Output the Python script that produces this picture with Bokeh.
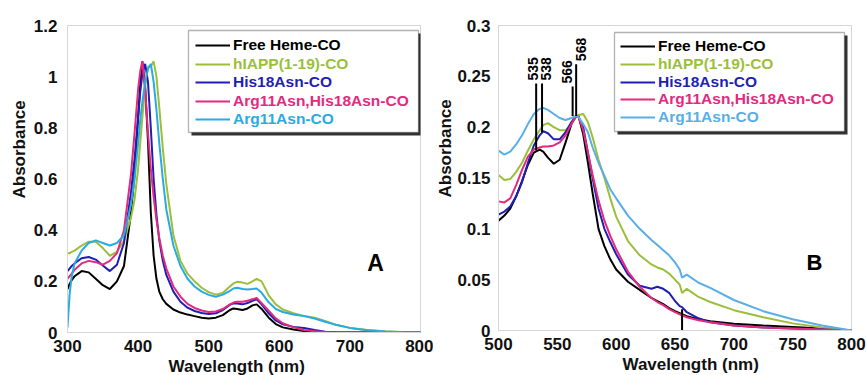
import math
from bokeh.plotting import figure
from bokeh.layouts import row
from bokeh.models import (Range1d, FixedTicker, NumeralTickFormatter, Legend, LegendItem,
                          BoxAnnotation, Label, ColumnDataSource, Title)
from bokeh.core.properties import value
from bokeh.embed import file_html
from bokeh.resources import INLINE

FONT = "Liberation Sans"

# ---------------- data: panel A (full spectra) ----------------
wl_a = [300, 303, 306, 310, 320, 330, 340, 350, 360, 370,
        380, 390, 395, 400, 403, 406, 410, 414, 418, 422,
        426, 430, 435, 440, 450, 460, 470, 480, 490, 500,
        510, 520, 530, 535, 540, 548, 555, 562, 568, 575,
        585, 595, 605, 620, 635, 650, 665, 680, 700, 725,
        750, 775, 800]

free_heme_a = [.17, .19, .205, .22, .24, .235, .21, .185, .17, .2,
               .26, .47, .62, .84, .97, 1.06, .96, .75, .47, .3,
               .21, .16, .13, .112, .09, .078, .07, .064, .058, .055,
               .058, .068, .088, .094, .092, .088, .094, .106, .11, .092,
               .058, .033, .02, .012, .006, .003, .001, 0, 0, 0,
               0, 0, 0]
hiapp_a = [.31, .31, .315, .32, .34, .355, .355, .33, .30, .315,
           .36, .45, .52, .64, .74, .84, .96, 1.04, 1.04, 1.06,
           1.0, .88, .72, .58, .38, .28, .23, .2, .175, .158,
           .148, .155, .18, .192, .198, .195, .19, .2, .21, .2,
           .145, .11, .09, .075, .065, .058, .045, .03, .018, .01,
           .005, .002, 0]
his18_a = [.24, .25, .26, .27, .29, .295, .285, .262, .24, .265,
           .35, .55, .68, .84, .94, 1.01, 1.05, .98, .8, .6,
           .46, .36, .28, .225, .16, .12, .097, .084, .076, .072,
           .075, .088, .108, .114, .113, .11, .115, .124, .13, .11,
           .075, .047, .032, .022, .018, .01, .003, .001, 0, 0,
           0, 0, 0]
double_a = [.21, .22, .23, .245, .27, .28, .275, .265, .28, .31,
            .4, .62, .78, .95, 1.02, 1.06, .95, .78, .64, .53,
            .44, .37, .3, .25, .18, .14, .112, .096, .086, .08,
            .082, .092, .11, .117, .12, .12, .124, .13, .135, .115,
            .085, .055, .036, .02, .01, .005, .002, 0, 0, 0,
            0, 0, 0]
arg11_a = [.02, .15, .22, .27, .32, .35, .36, .35, .34, .35,
           .38, .5, .6, .74, .83, .9, .98, 1.03, 1.05, .98,
           .87, .74, .6, .48, .34, .26, .21, .18, .16, .147,
           .14, .148, .163, .172, .175, .17, .168, .17, .172, .155,
           .118, .092, .08, .07, .064, .055, .042, .03, .018, .009,
           .004, .001, 0]

# ---------------- data: panel B (Q-band region) ----------------
wl_b = [500, 505, 510, 515, 520, 525, 530, 535, 538, 542,
        547, 552, 557, 562, 566, 568, 572, 576, 580, 585,
        590, 595, 600, 610, 620, 630, 635, 640, 645, 650,
        654, 656, 660, 670, 680, 700, 725, 750, 775, 800]

free_heme_b = [.108, .113, .12, .132, .147, .163, .175, .178, .176, .17,
               .164, .168, .185, .203, .211, .211, .193, .165, .135, .1,
               .083, .07, .06, .048, .04, .032, .029, .026, .022, .019,
               .017, .016, .014, .011, .009, .0066, .005, .0035, .002, 0]
hiapp_b = [.153, .148, .149, .156, .165, .177, .188, .197, .202, .204,
           .2, .197, .197, .203, .21, .212, .213, .205, .19, .168,
           .15, .13, .112, .088, .074, .065, .062, .06, .056, .05,
           .045, .037, .041, .033, .028, .02, .013, .007, .003, 0]
his18_b = [.114, .117, .122, .132, .146, .165, .182, .192, .196, .194,
           .188, .188, .195, .205, .211, .21, .2, .175, .15, .12,
           .1, .087, .075, .055, .044, .041, .043, .041, .037, .029,
           .024, .023, .018, .012, .008, .005, .003, .002, .001, 0]
double_b = [.127, .126, .13, .143, .158, .171, .178, .18, .181, .181,
            .182, .185, .192, .203, .211, .21, .197, .175, .153, .128,
            .108, .093, .08, .058, .043, .032, .028, .025, .021, .018,
            .016, .015, .013, .01, .008, .005, .003, .002, .001, 0]
arg11_b = [.177, .173, .176, .183, .192, .203, .213, .218, .219, .217,
           .213, .209, .207, .209, .211, .21, .203, .195, .18, .165,
           .152, .139, .13, .113, .1, .089, .084, .079, .074, .067,
           .06, .052, .055, .047, .042, .03, .019, .011, .005, 0]

# peak marker lines in panel B
peak_x = [532, 537, 563, 566, 656]
peak_bottom = [0.177, 0.195, 0.211, 0.211, 0.0]
peak_top = [0.243, 0.243, 0.240, 0.262, 0.021]
peak_text = ["535", "538", "566", "568"]

series_names = ["Free Heme-CO", "hIAPP(1-19)-CO", "His18Asn-CO",
                "Arg11Asn,His18Asn-CO", "Arg11Asn-CO"]
colors_a = ["#000000", "#9bbf3b", "#1f1fb4", "#e5297e", "#29abe2"]
colors_b = ["#000000", "#9bbf3b", "#1f1fb4", "#e5297e", "#5aaee6"]

xticks_a = [300, 400, 500, 600, 700, 800]
yticks_a = [0, 0.2, 0.4, 0.6, 0.8, 1.0, 1.2]
xticks_b = [500, 550, 600, 650, 700, 750, 800]
yticks_b = [0, 0.05, 0.1, 0.15, 0.2, 0.25, 0.3]

X_TITLE = "Wavelength (nm)"
Y_TITLE = "Absorbance"


def axis_title(text, offset, standoff):
    return Title(text=text, align="left", offset=offset, standoff=standoff,
                 text_font=FONT, text_font_style="bold", text_font_size="17px",
                 text_color="#111111")


def style(p, xticks, yticks, ytick_standoff):
    p.xgrid.visible = False
    p.ygrid.visible = False
    p.outline_line_color = "#d6d6d6"
    p.outline_line_width = 1
    p.xaxis.ticker = FixedTicker(ticks=xticks)
    p.yaxis.ticker = FixedTicker(ticks=yticks)
    p.yaxis.formatter = NumeralTickFormatter(format="0.[00]")
    for ax in (p.xaxis[0], p.yaxis[0]):
        ax.axis_line_color = "#d6d6d6"
        ax.major_tick_line_color = None
        ax.minor_tick_line_color = None
        ax.major_tick_out = 0
        ax.major_tick_in = 0
        ax.major_label_text_font = FONT
        ax.major_label_text_font_style = "bold"
        ax.major_label_text_font_size = "17px"
        ax.major_label_text_color = "#111111"
    p.xaxis.major_label_standoff = 7
    p.yaxis.major_label_standoff = ytick_standoff


def add_legend(p, renderers, colors, x0, centers, box, shadow):
    sh = BoxAnnotation(left=shadow[0], right=shadow[1], bottom=shadow[2], top=shadow[3],
                       left_units="screen", right_units="screen",
                       bottom_units="screen", top_units="screen",
                       fill_color="#333333", fill_alpha=1.0, line_color=None)
    bx = BoxAnnotation(left=box[0], right=box[1], bottom=box[2], top=box[3],
                       left_units="screen", right_units="screen",
                       bottom_units="screen", top_units="screen",
                       fill_color="white", fill_alpha=1.0, line_color="black",
                       line_width=1.3, line_dash="solid")
    p.add_layout(sh)
    p.add_layout(bx)
    for name, r, c, cy in zip(series_names, renderers, colors, centers):
        leg = Legend(items=[LegendItem(label=name, renderers=[r])],
                     location=(x0, cy - 9), padding=0, margin=0, spacing=0,
                     border_line_color=None, background_fill_alpha=0,
                     glyph_width=35, glyph_height=18, label_height=18,
                     label_standoff=3, label_text_font=FONT,
                     label_text_font_style="bold", label_text_font_size="15.5px",
                     label_text_color=c)
        p.add_layout(leg, "center")


# ---------------- panel A ----------------
pa = figure(frame_width=353, frame_height=307, min_border_left=67, min_border_right=13,
            min_border_top=24, min_border_bottom=44,
            x_range=Range1d(300, 800), y_range=Range1d(0, 1.2),
            output_backend="svg", toolbar_location=None)
style(pa, xticks_a, yticks_a, 10)
rends_a = []
for ys, c in zip([free_heme_a, hiapp_a, his18_a, double_a, arg11_a], colors_a):
    rends_a.append(pa.line(wl_a, ys, line_color=c, line_width=2))
add_legend(pa, rends_a, colors_a, 128, [287 - 18.5 * i for i in range(5)],
           (121, 351, 200, 302), (124, 354, 197, 299))
pa.add_layout(Label(x=308, y=70, x_units="screen", y_units="screen", text="A",
                    text_font=FONT, text_font_style="bold", text_font_size="23px",
                    text_align="center", text_baseline="middle", text_color="black"))
pa.add_layout(axis_title(X_TITLE, 101, 0), "below")
pa.add_layout(axis_title(Y_TITLE, 134, 4), "left")

# ---------------- panel B ----------------
pb = figure(frame_width=353, frame_height=305, min_border_left=63, min_border_right=17,
            min_border_top=25, min_border_bottom=45,
            x_range=Range1d(500, 800), y_range=Range1d(0, 0.3),
            output_backend="svg", toolbar_location=None)
style(pb, xticks_b, yticks_b, 8)
rends_b = []
for ys, c in zip([free_heme_b, hiapp_b, his18_b, double_b, arg11_b], colors_b):
    rends_b.append(pb.line(wl_b, ys, line_color=c, line_width=2))

seg_src = ColumnDataSource(dict(x=peak_x, y0=peak_bottom, y1=peak_top))
pb.segment(x0="x", y0="y0", x1="x", y1="y1", source=seg_src, line_color="black", line_width=2)
txt_src = ColumnDataSource(dict(x=peak_x[:4], y=peak_top[:4], t=peak_text,
                                xo=[-3.5, 4.0, -6.0, 5.0]))
pb.text(x="x", y="y", text="t", source=txt_src, angle=math.pi / 2, x_offset="xo",
        y_offset=-3, text_align="left", text_baseline="middle",
        text_font=value(FONT), text_font_size="14px", text_font_style="bold",
        text_color="black")

add_legend(pb, rends_b, colors_b, 122, [284 - 17.8 * i for i in range(5)],
           (116, 346, 199, 298), (119, 349, 196, 295))
pb.add_layout(Label(x=316, y=68, x_units="screen", y_units="screen", text="B",
                    text_font=FONT, text_font_style="bold", text_font_size="22px",
                    text_align="center", text_baseline="middle", text_color="black"))
pb.add_layout(axis_title(X_TITLE, 124, 0), "below")
pb.add_layout(axis_title(Y_TITLE, 133, 0), "left")

layout = row(pa, pb)
open("out.html", "w").write(file_html(layout, INLINE))
